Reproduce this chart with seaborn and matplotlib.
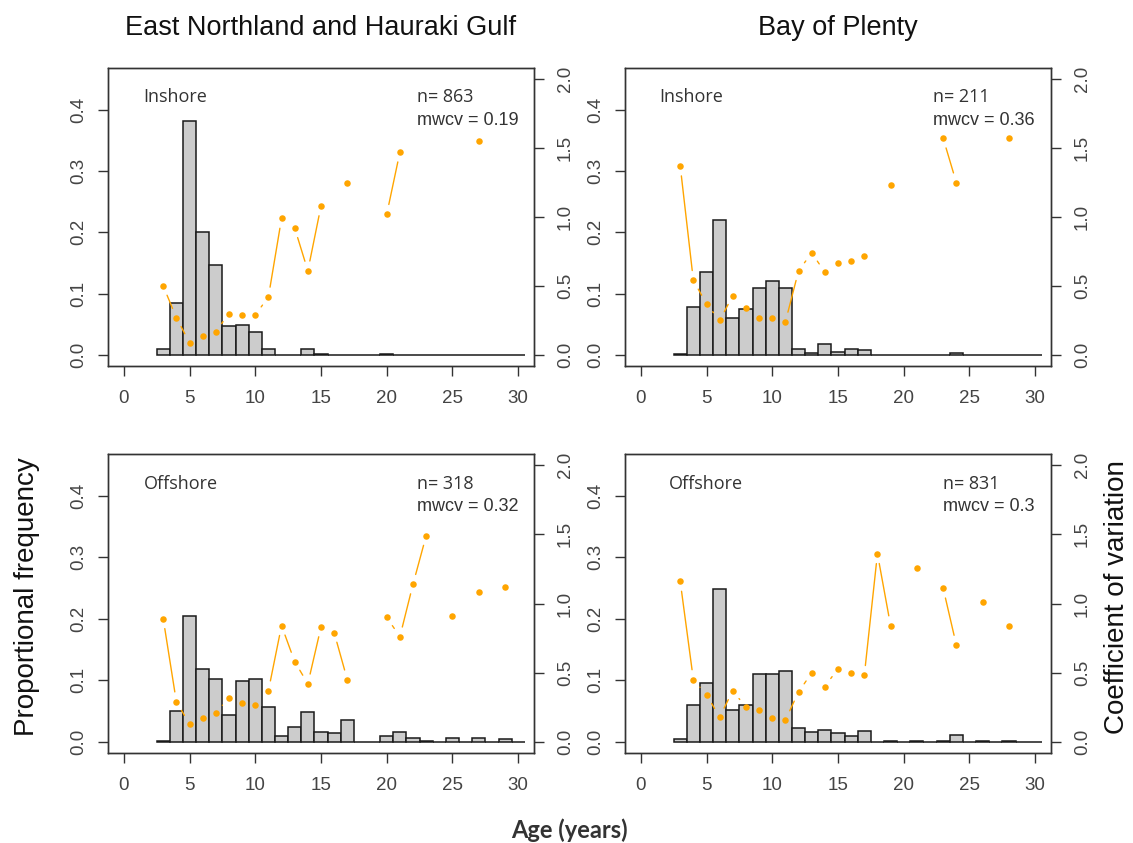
import numpy as np
import matplotlib
matplotlib.use("Agg")
import matplotlib.pyplot as plt
import seaborn as sns

# ages covered by every histogram (bars centred on whole years)
ages = list(range(3, 31))

# proportional frequency at age 3..30
enhg_in_prop = [0.010, 0.085, 0.382, 0.200, 0.146, 0.047, 0.049, 0.038, 0.010, 0.000,
                0.000, 0.010, 0.002, 0.000, 0.000, 0.000, 0.000, 0.002, 0.000, 0.000,
                0, 0, 0, 0, 0, 0, 0, 0]
bop_in_prop = [0.002, 0.079, 0.136, 0.220, 0.060, 0.075, 0.109, 0.121, 0.109, 0.010,
               0.004, 0.018, 0.005, 0.010, 0.008, 0.000, 0.000, 0.000, 0.000, 0.000,
               0.000, 0.004, 0, 0, 0, 0, 0, 0]
enhg_off_prop = [0.002, 0.050, 0.204, 0.119, 0.102, 0.044, 0.099, 0.102, 0.056, 0.010,
                 0.024, 0.048, 0.016, 0.014, 0.036, 0.000, 0.000, 0.009, 0.016, 0.007,
                 0.002, 0.000, 0.007, 0.000, 0.007, 0.000, 0.004, 0.000]
bop_off_prop = [0.004, 0.060, 0.095, 0.249, 0.052, 0.060, 0.111, 0.111, 0.116, 0.023,
                0.016, 0.020, 0.014, 0.009, 0.018, 0.000, 0.001, 0.000, 0.001, 0.000,
                0.001, 0.012, 0.000, 0.001, 0.000, 0.001, 0.000, 0.000]

# coefficient of variation by age (only ages that have one)
enhg_in_cv_age = [3, 4, 5, 6, 7, 8, 9, 10, 11, 12, 13, 14, 15, 17, 20, 21, 27]
enhg_in_cv = [0.50, 0.27, 0.09, 0.14, 0.17, 0.30, 0.29, 0.29, 0.42, 0.99, 0.92, 0.61,
              1.08, 1.25, 1.02, 1.47, 1.55]
bop_in_cv_age = [3, 4, 5, 6, 7, 8, 9, 10, 11, 12, 13, 14, 15, 16, 17, 19, 23, 24, 28]
bop_in_cv = [1.37, 0.54, 0.37, 0.25, 0.43, 0.34, 0.27, 0.27, 0.24, 0.61, 0.74, 0.60,
             0.67, 0.68, 0.72, 1.23, 1.57, 1.25, 1.57]
enhg_off_cv_age = [3, 4, 5, 6, 7, 8, 9, 10, 11, 12, 13, 14, 15, 16, 17, 20, 21, 22, 23,
                   25, 27, 29]
enhg_off_cv = [0.89, 0.29, 0.13, 0.17, 0.21, 0.32, 0.28, 0.27, 0.37, 0.84, 0.58, 0.42,
               0.83, 0.79, 0.45, 0.90, 0.76, 1.14, 1.49, 0.91, 1.08, 1.12]
bop_off_cv_age = [3, 4, 5, 6, 7, 8, 9, 10, 11, 12, 13, 14, 15, 16, 17, 18, 19, 21, 23,
                  24, 26, 28]
bop_off_cv = [1.16, 0.45, 0.34, 0.18, 0.37, 0.25, 0.23, 0.17, 0.16, 0.36, 0.50, 0.40,
              0.53, 0.50, 0.48, 1.36, 0.84, 1.26, 1.11, 0.70, 1.01, 0.84]

areas = ["East Northland and Hauraki Gulf", "Bay of Plenty"]
zones = ["Inshore", "Offshore"]
n_fish = [863, 211, 318, 831]
mwcv = ["0.19", "0.36", "0.32", "0.3"]

sns.set_style("ticks")
plt.rcParams['font.family'] = ['Liberation Sans', 'DejaVu Sans']

W, H = 1133, 843
fig = plt.figure(figsize=(W / 100, H / 100), dpi=100)

ink = "#333333"
orange = "#FFA500"
gap = 10  # px gap around points (R type="b")

# panel boxes in pixels: left, top, right, bottom
boxes = [(108, 68, 534, 366), (625, 68, 1051, 366),
         (108, 454, 534, 753), (625, 454, 1051, 753)]
props = [enhg_in_prop, bop_in_prop, enhg_off_prop, bop_off_prop]
cv_ages = [enhg_in_cv_age, bop_in_cv_age, enhg_off_cv_age, bop_off_cv_age]
cvs = [enhg_in_cv, bop_in_cv, enhg_off_cv, bop_off_cv]
label_x = [1.5, 1.4, 1.5, 2.1]
stat_x = [22.3, 22.2, 22.3, 23.0]

for i in range(4):
    l, t, r, b = boxes[i]
    ax = fig.add_axes([l / W, 1 - b / H, (r - l) / W, (b - t) / H])
    sns.histplot(x=ages, weights=props[i], discrete=True, ax=ax,
                 color="#CCCCCC", alpha=1, edgecolor="#1a1a1a", linewidth=1.1)
    ax.set_xlim(-1.2, 31.2)
    ax.set_ylim(-0.018, 0.468)
    ax.set_xticks(range(0, 31, 5))
    ax.set_yticks([0, 0.1, 0.2, 0.3, 0.4])
    ax.set_yticklabels(["0.0", "0.1", "0.2", "0.3", "0.4"])
    ax.set_xlabel("")
    ax.set_ylabel("")

    ax2 = ax.twinx()
    sns.scatterplot(x=cv_ages[i], y=cvs[i], ax=ax2, color=orange, s=22,
                    linewidth=0, zorder=3)
    ax2.set_ylim(-0.08, 2.08)
    ax2.set_yticks([0, 0.5, 1.0, 1.5, 2.0])
    ax2.set_yticklabels(["0.0", "0.5", "1.0", "1.5", "2.0"])
    ax2.set_ylabel("")

    # lines between neighbouring ages, with gaps around the points
    for k in range(len(cv_ages[i]) - 1):
        if cv_ages[i][k + 1] - cv_ages[i][k] != 1:
            continue
        p1 = ax2.transData.transform((cv_ages[i][k], cvs[i][k]))
        p2 = ax2.transData.transform((cv_ages[i][k + 1], cvs[i][k + 1]))
        d = p2 - p1
        L = np.hypot(*d)
        if L <= 2 * gap:
            continue
        q1 = p1 + d / L * gap
        q2 = p2 - d / L * gap
        seg = ax2.transData.inverted().transform([q1, q2])
        ax2.plot(seg[:, 0], seg[:, 1], color=orange, lw=1)

    for a in (ax, ax2):
        for s in a.spines.values():
            s.set_visible(True)
            s.set_color(ink)
            s.set_linewidth(1)
    ax.tick_params(axis="x", direction="out", length=7.5, width=1, color=ink,
                   labelsize=13.5, labelcolor="#444444", pad=10)
    ax.tick_params(axis="y", direction="out", length=7.5, width=1, color=ink,
                   labelsize=13.5, labelcolor="#444444", pad=7.5, labelrotation=90)
    ax2.tick_params(axis="y", direction="out", length=7.5, width=1, color=ink,
                    labelsize=13.5, labelcolor="#444444", pad=9, labelrotation=90)
    for lab in ax.get_yticklabels() + ax2.get_yticklabels():
        lab.set_va("center")

    ax.text(label_x[i], 0.42, zones[i // 2], fontsize=13, family="Open Sans",
            color=ink, va="center", ha="left")
    ax.text(stat_x[i], 0.42, "n= %d" % n_fish[i], fontsize=13, family="Open Sans",
            color=ink, va="center", ha="left")
    ax.text(stat_x[i], 0.383, "mwcv = " + mwcv[i], fontsize=13, color=ink,
            va="center", ha="left")

fig.text((108 + 534) / 2 / W, 1 - 28 / H, areas[0], fontsize=19.5, color="#111111",
         ha="center", va="center")
fig.text((625 + 1051) / 2 / W, 1 - 28 / H, areas[1], fontsize=19.5, color="#111111",
         ha="center", va="center")
fig.text(27 / W, 1 - 597 / H, "Proportional frequency", fontsize=20, rotation=90,
         ha="center", va="center", color="#111111")
fig.text(1117 / W, 1 - 597 / H, "Coefficient of variation", fontsize=20, rotation=90,
         ha="center", va="center", color="#111111")
fig.text(569 / W, 1 - 830 / H, "Age (years)", fontsize=17, family="Lato",
         fontweight="bold", ha="center", va="center", color="#333333")

fig.savefig("out.png", dpi=100)
